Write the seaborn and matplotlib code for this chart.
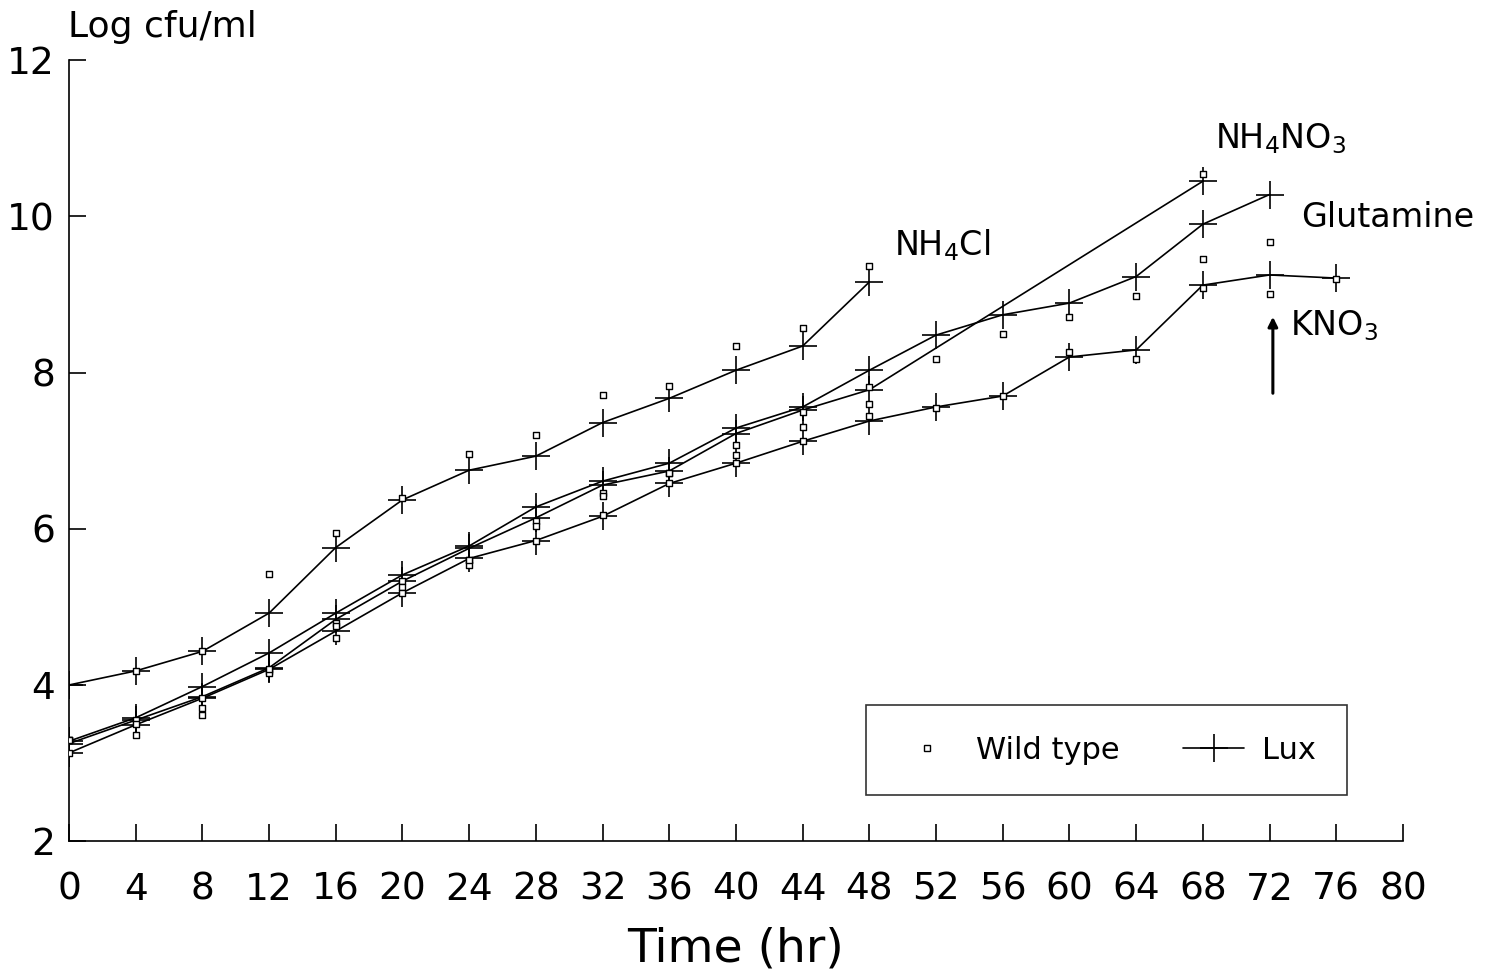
import numpy as np
import pandas as pd
import seaborn as sns
import matplotlib.pyplot as plt
from matplotlib.lines import Line2D

# time points (hr)
t_nh4cl = [0, 4, 8, 12, 16, 20, 24, 28, 32, 36, 40, 44, 48]
t_glut = [0, 4, 8, 12, 16, 20, 24, 28, 32, 36, 40, 44, 48, 52, 56, 60, 64, 68, 72]
t_nh4no3 = [0, 4, 8, 12, 16, 20, 24, 28, 32, 36, 40, 44, 48, 68]
t_kno3 = [0, 4, 8, 12, 16, 20, 24, 28, 32, 36, 40, 44, 48, 52, 56, 60, 64, 68, 72, 76]

# Lux strain (log cfu/ml)
lux_nh4cl = [4.0, 4.18, 4.43, 4.92, 5.76, 6.37, 6.75, 6.93, 7.36, 7.67, 8.03, 8.34, 9.16]
lux_glut = [3.28, 3.58, 3.98, 4.41, 4.92, 5.41, 5.78, 6.28, 6.61, 6.84, 7.29, 7.56,
            8.03, 8.48, 8.74, 8.89, 9.23, 9.9, 10.28]
lux_nh4no3 = [3.25, 3.55, 3.85, 4.22, 4.84, 5.33, 5.75, 6.14, 6.56, 6.74, 7.22, 7.52,
              7.78, 10.45]
lux_kno3 = [3.13, 3.49, 3.83, 4.2, 4.69, 5.18, 5.62, 5.85, 6.16, 6.58, 6.84, 7.12,
            7.38, 7.56, 7.7, 8.2, 8.29, 9.12, 9.25, 9.21]

# Wild type (log cfu/ml)
wt_nh4cl = [3.3, 4.18, 4.43, 5.42, 5.94, 6.39, 6.96, 7.2, 7.71, 7.83, 8.34, 8.57, 9.36]
wt_glut = [3.3, 3.55, 3.7, 4.18, 4.79, 5.33, 5.6, 6.1, 6.46, 6.71, 7.07, 7.5,
           7.81, 8.17, 8.5, 8.71, 8.98, 9.46, 9.67]
wt_nh4no3 = [3.3, 3.5, 3.62, 4.15, 4.75, 5.25, 5.53, 6.03, 6.42, 6.71, 6.94, 7.3,
             7.6, 10.54]
wt_kno3 = [3.13, 3.36, 3.83, 4.2, 4.6, 5.18, 5.6, 5.85, 6.18, 6.58, 6.84, 7.12,
           7.45, 7.55, 7.7, 8.27, 8.18, 9.08, 9.0, 9.2]

x_ticks = list(range(0, 81, 4))
y_ticks = [2, 4, 6, 8, 10, 12]


def long(t, v, name):
    return pd.DataFrame({"time": t, "logcfu": v, "medium": name})


lux = pd.concat([long(t_nh4cl, lux_nh4cl, "NH4Cl"), long(t_glut, lux_glut, "Glutamine"),
                 long(t_nh4no3, lux_nh4no3, "NH4NO3"), long(t_kno3, lux_kno3, "KNO3")])
wt = pd.concat([long(t_nh4cl, wt_nh4cl, "NH4Cl"), long(t_glut, wt_glut, "Glutamine"),
                long(t_nh4no3, wt_nh4no3, "NH4NO3"), long(t_kno3, wt_kno3, "KNO3")])

sns.set_style("ticks")
plt.rcParams["font.family"] = ["DejaVu Sans"]
plt.rcParams["text.color"] = "black"
plt.rcParams["xtick.color"] = "black"
plt.rcParams["ytick.color"] = "black"
plt.rcParams["axes.labelcolor"] = "black"

fig = plt.figure(figsize=(14.89, 9.77), dpi=100)
ax = fig.add_axes([0.0463, 0.139, 0.8959, 0.7994])

sns.lineplot(data=lux, x="time", y="logcfu", units="medium", estimator=None,
             color="black", lw=1.2, marker="+", markersize=20, mew=1.2,
             mec="black", legend=False, ax=ax)
sns.scatterplot(data=wt, x="time", y="logcfu", marker="s", s=22, color="white",
                edgecolor="black", linewidth=1.0, legend=False, ax=ax, zorder=3)

ax.set_xlim(0, 80)
ax.set_ylim(2, 12)
ax.set_xticks(x_ticks)
ax.set_yticks(y_ticks)
ax.tick_params(direction="in", length=12, width=1.2, labelsize=27)
ax.tick_params(axis="x", pad=22)
ax.tick_params(axis="y", pad=10)
sns.despine(ax=ax)
for s in ["left", "bottom"]:
    ax.spines[s].set_linewidth(1.2)
    ax.spines[s].set_color("black")
ax.set_xlabel("")
ax.set_ylabel("")

fig.text(0.046, 0.962, "Log cfu/ml", fontsize=26, ha="left", va="baseline")
fig.text(0.494, 0.006, "Time (hr)", fontsize=34, ha="center", va="bottom")

ax.text(49.5, 9.63, r"NH$_4$Cl", fontsize=24, va="center")
ax.text(68.7, 11.0, r"NH$_4$NO$_3$", fontsize=24, va="center")
ax.text(73.9, 9.98, "Glutamine", fontsize=24, va="center")
ax.text(73.2, 8.6, r"KNO$_3$", fontsize=24, va="center")
ax.annotate("", xy=(72.2, 8.75), xytext=(72.2, 7.7),
            arrowprops=dict(arrowstyle="-|>", color="black", lw=2.2,
                            mutation_scale=14))

handles = [Line2D([], [], ls="none", marker="s", ms=5, mfc="white", mec="black"),
           Line2D([], [], color="black", lw=1.2, marker="+", ms=20, mew=1.2)]
leg = ax.legend(handles, ["Wild type", "Lux"], ncol=2, loc="lower left",
                bbox_to_anchor=(0.5975, 0.059, 0.3605, 0.114), mode="expand",
                borderaxespad=0, frameon=True, fancybox=False, edgecolor="black",
                fontsize=22, handlelength=2.0, columnspacing=2.5, borderpad=1.0,
                handletextpad=0.6)
leg.get_frame().set_linewidth(1.2)

fig.savefig("out.png", dpi=100, facecolor="white")
